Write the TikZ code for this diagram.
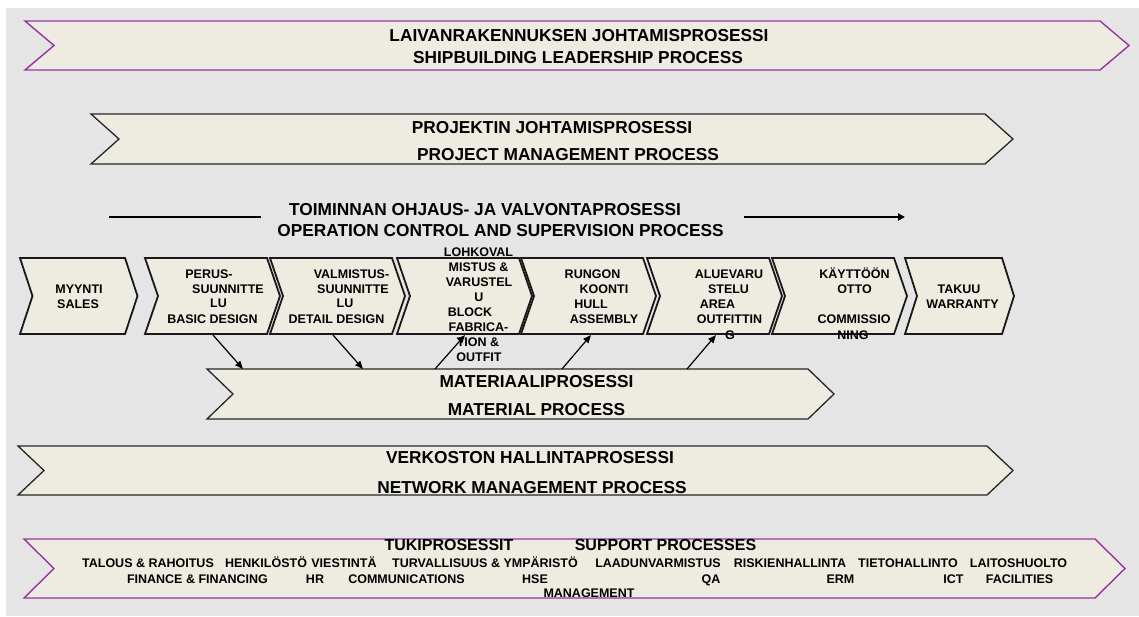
\documentclass[tikz,border=0pt]{standalone}
\usepackage{fontspec}
\setmainfont{Liberation Sans}
\usetikzlibrary{arrows.meta}
\definecolor{bgtwo}{RGB}{238,236,225}
\definecolor{bggray}{RGB}{229,229,229}
\definecolor{purp}{RGB}{153,51,160}
\newcommand\chevfont{\bfseries\fontsize{12.5}{15}\selectfont}
\newcommand\banfont{\bfseries\fontsize{17.3}{20}\selectfont}
\newcommand\tukifont{\bfseries\fontsize{16}{19}\selectfont}
\newcommand\chevshape[6]{\draw[#6] (#1,#3) -- (#2,#3) -- ({#2+#5},{(#3+#4)/2}) -- (#2,#4) -- (#1,#4) -- ({#1+#5},{(#3+#4)/2}) -- cycle;}
\tikzset{
  chevbox/.style={draw=black!90, line width=1.8pt, fill=bgtwo, line join=miter},
  bannerp/.style={draw=purp, line width=1.4pt, fill=bgtwo},
  bannerk/.style={draw=black!85, line width=1.3pt, fill=bgtwo},
  ctext/.style={anchor=base, inner sep=0pt, font=\chevfont},
  btext/.style={anchor=base, inner sep=0pt, font=\banfont},
  ttext/.style={anchor=base, inner sep=0pt, font=\tukifont},
  arr/.style={line width=1.2pt, -{Triangle[length=8pt,width=6.5pt]}},
}
\begin{document}
\begin{tikzpicture}[x=1pt,y=-1pt]
\useasboundingbox (0,0) rectangle (1139,616);
\fill[white] (0,0) rectangle (1139,616);
\fill[bggray] (6,8) rectangle (1139,616);

% banners
\chevshape{25}{1100}{21}{70}{29}{bannerp}
\chevshape{91}{985}{114}{164}{28}{bannerk}
\chevshape{207}{808}{369}{419}{26}{bannerk}
\chevshape{18}{987}{446}{495}{26}{bannerk}
\chevshape{24}{1095}{539}{598}{30}{bannerp}

% chevron row
\chevshape{20}{125}{258}{334}{12.5}{chevbox}
\chevshape{145}{267}{258}{334}{13}{chevbox}
\chevshape{270}{392}{258}{334}{13}{chevbox}
\chevshape{397}{519}{258}{334}{13}{chevbox}
\chevshape{521}{643}{258}{334}{13}{chevbox}
\chevshape{647}{769}{258}{334}{13}{chevbox}
\chevshape{772}{894}{258}{334}{13}{chevbox}
\chevshape{905}{1002}{258}{334}{12}{chevbox}

% banner texts
\node[btext] (lj1) at (579,41.2) {LAIVANRAKENNUKSEN JOHTAMISPROSESSI};
\node[btext] (lj2) at (578,63) {SHIPBUILDING LEADERSHIP PROCESS};
\node[btext] (pj1) at (552,133.2) {PROJEKTIN JOHTAMISPROSESSI};
\node[btext] (pj2) at (568,160.2) {PROJECT MANAGEMENT PROCESS};
\node[btext] (oc1) at (485,215.2) {TOIMINNAN OHJAUS- JA VALVONTAPROSESSI};
\node[btext] (oc2) at (500.5,236.2) {OPERATION CONTROL AND SUPERVISION PROCESS};
\node[btext] (mp1) at (536.5,387.2) {MATERIAALIPROSESSI};
\node[btext] (mp2) at (536.5,415.2) {MATERIAL PROCESS};
\node[btext] (nm1) at (530,463.2) {VERKOSTON HALLINTAPROSESSI};
\node[btext] (nm2) at (532,493.2) {NETWORK MANAGEMENT PROCESS};

% operation control line and arrow
\coordinate (ocl1) at (109,217);
\coordinate (ocl2) at (261,217);
\coordinate (oca1) at (744,217);
\coordinate (oca2) at (905,217);
\draw[line width=2pt] (ocl1) -- (ocl2);
\draw[line width=2pt, -{Triangle[length=7pt,width=7pt]}] (oca1) -- (oca2);

% chevron texts
\node[ctext] (c1a) at (79,293.5) {MYYNTI};
\node[ctext] (c1b) at (78,308.5) {SALES};
\node[ctext] (c2a) at (209,278.5) {PERUS-};
\node[ctext] (c2b) at (228,293.5) {SUUNNITTE};
\node[ctext] (c2c) at (218.5,307.5) {LU};
\node[ctext] (c2d) at (212.5,323.5) {BASIC DESIGN};
\node[ctext] (c3a) at (351.5,278.5) {VALMISTUS-};
\node[ctext] (c3b) at (353,293.5) {SUUNNITTE};
\node[ctext] (c3c) at (345,307.5) {LU};
\node[ctext] (c3d) at (336.5,323.5) {DETAIL DESIGN};
\node[ctext] (c4a) at (478.5,256.5) {LOHKOVAL};
\node[ctext] (c4b) at (478.5,271) {MISTUS \&};
\node[ctext] (c4c) at (479,286.5) {VARUSTEL};
\node[ctext] (c4d) at (479,301.5) {U};
\node[ctext] (c4e) at (470,316.5) {BLOCK};
\node[ctext] (c4f) at (478.5,331.5) {FABRICA-};
\node[ctext] (c4g) at (478,346.5) {TION \&};
\node[ctext] (c4h) at (479,361.5) {OUTFIT};
\node[ctext] (c5a) at (592.5,278.5) {RUNGON};
\node[ctext] (c5b) at (604,293.5) {KOONTI};
\node[ctext] (c5c) at (591,308.5) {HULL};
\node[ctext] (c5d) at (604,323.5) {ASSEMBLY};
\node[ctext] (c6a) at (729,278.5) {ALUEVARU};
\node[ctext] (c6b) at (728.5,293.5) {STELU};
\node[ctext] (c6c) at (717.5,308.5) {AREA};
\node[ctext] (c6d) at (729.5,323.5) {OUTFITTIN};
\node[ctext] (c6e) at (730,339.5) {G};
\node[ctext] (c7a) at (854.5,278.5) {KÄYTTÖÖN};
\node[ctext] (c7b) at (854.5,293.5) {OTTO};
\node[ctext] (c7c) at (854,323.5) {COMMISSIO};
\node[ctext] (c7d) at (853,339.5) {NING};
\node[ctext] (c8a) at (959,293.5) {TAKUU};
\node[ctext] (c8b) at (962.5,308.5) {WARRANTY};

% arrows between chevrons and material process
\coordinate (a1s) at (213,335); \coordinate (a1e) at (243,369);
\coordinate (a2s) at (333,335); \coordinate (a2e) at (363,369);
\coordinate (a3s) at (435,369); \coordinate (a3e) at (465,335);
\coordinate (a4s) at (562,369); \coordinate (a4e) at (591,335);
\coordinate (a5s) at (687,369); \coordinate (a5e) at (716,335);
\draw[arr] (a1s) -- (a1e);
\draw[arr] (a2s) -- (a2e);
\draw[arr] (a3s) -- (a3e);
\draw[arr] (a4s) -- (a4e);
\draw[arr] (a5s) -- (a5e);

% support processes
\node[ttext] (sp1) at (449,550.7) {TUKIPROSESSIT};
\node[ttext] (sp2) at (665.5,550.7) {SUPPORT PROCESSES};
\node[ctext] (s1) at (148,567.5) {TALOUS \& RAHOITUS};
\node[ctext] (s2) at (266,567.5) {HENKILÖSTÖ};
\node[ctext] (s3) at (344,567.5) {VIESTINTÄ};
\node[ctext] (s4) at (485,567.5) {TURVALLISUUS \& YMPÄRISTÖ};
\node[ctext] (s5) at (658,567.5) {LAADUNVARMISTUS};
\node[ctext] (s6) at (790,567.5) {RISKIENHALLINTA};
\node[ctext] (s7) at (908,567.5) {TIETOHALLINTO};
\node[ctext] (s8) at (1018.5,567.5) {LAITOSHUOLTO};
\node[ctext] (f1) at (197.5,583.5) {FINANCE \& FINANCING};
\node[ctext] (f2) at (315,583.5) {HR};
\node[ctext] (f3) at (406.5,583.5) {COMMUNICATIONS};
\node[ctext] (f4) at (535,583.5) {HSE};
\node[ctext] (f5) at (711,583.5) {QA};
\node[ctext] (f6) at (840.5,583.5) {ERM};
\node[ctext] (f7) at (953.5,583.5) {ICT};
\node[ctext] (f8) at (1019.5,583.5) {FACILITIES};
\node[ctext] (f9) at (589,597.5) {MANAGEMENT};
\end{tikzpicture}
\end{document}
